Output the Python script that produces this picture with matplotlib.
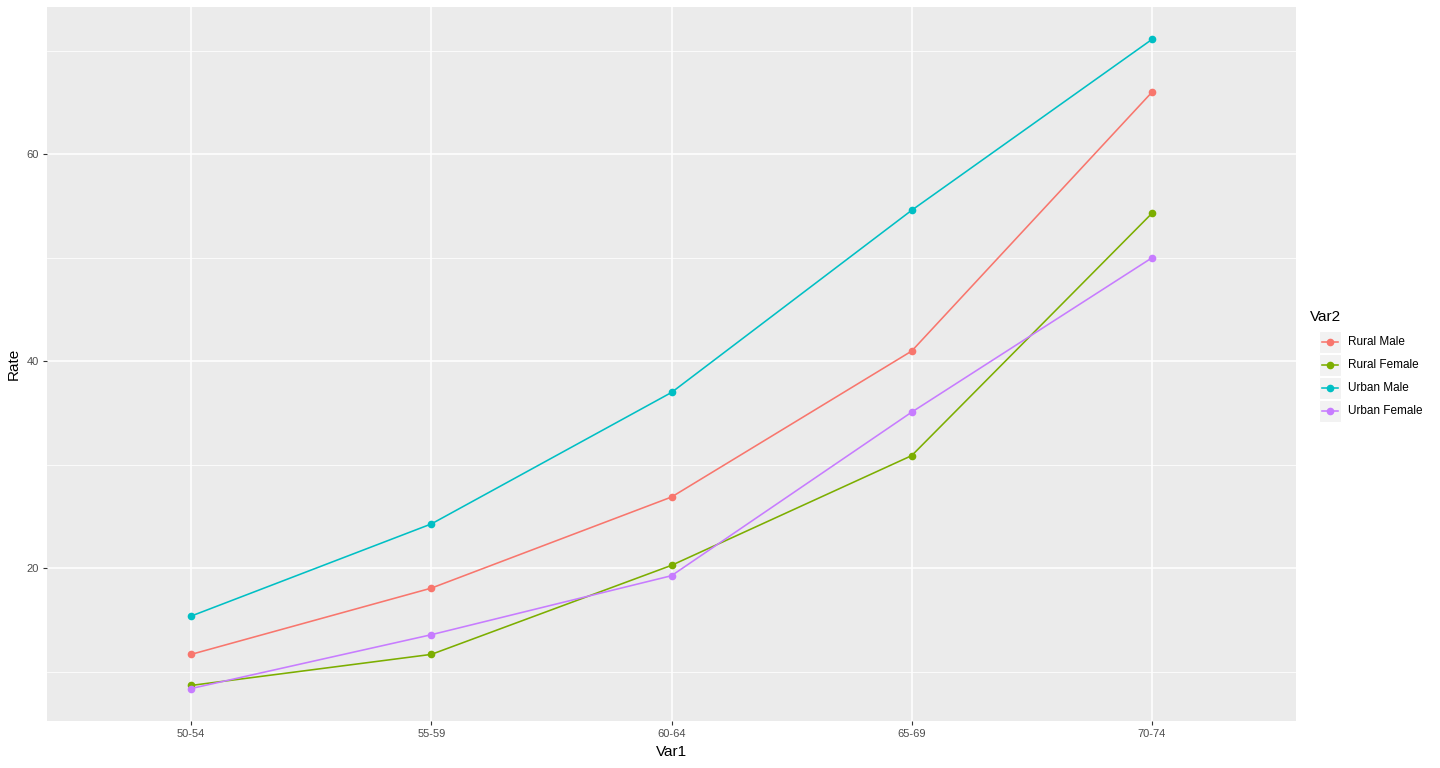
import matplotlib
matplotlib.use("Agg")
import matplotlib.pyplot as plt
from matplotlib.lines import Line2D
from matplotlib.patches import Rectangle

plt.rcParams["font.family"] = ["Liberation Sans", "DejaVu Sans"]

# VADeaths
age_groups = ["50-54", "55-59", "60-64", "65-69", "70-74"]
series_names = ["Rural Male", "Rural Female", "Urban Male", "Urban Female"]
rural_male = [11.7, 18.1, 26.9, 41.0, 66.0]
rural_female = [8.7, 11.7, 20.3, 30.9, 54.3]
urban_male = [15.4, 24.3, 37.0, 54.6, 71.1]
urban_female = [8.4, 13.6, 19.3, 35.1, 50.0]
series_values = [rural_male, rural_female, urban_male, urban_female]
colors = ["#F8766D", "#7CAE00", "#00BFC4", "#C77CFF"]

fig = plt.figure(figsize=(14.4, 7.68), dpi=100)
W, H = 1440, 768
ax = fig.add_axes([47 / W, (768 - 721) / H, 1249 / W, 714 / H])
ax.set_facecolor("#EBEBEB")

xs = list(range(len(age_groups)))
for name, vals, c in zip(series_names, series_values, colors):
    ax.plot(xs, vals, color=c, lw=1.15, marker="o", ms=4.5, mec=c, mfc=c, zorder=3)

# ggplot-style 5% expansion
allv = [v for s in series_values for v in s]
lo, hi = min(allv), max(allv)
pad = (hi - lo) * 0.05
ax.set_ylim(lo - pad, hi + pad)
ax.set_xlim(-0.6, len(age_groups) - 1 + 0.6)

ax.set_xticks(xs)
ax.set_xticklabels(age_groups)
ax.set_yticks([20, 40, 60])
ax.set_yticks([10, 30, 50, 70], minor=True)
ax.grid(True, which="major", color="white", lw=1.1, zorder=0)
ax.grid(True, which="minor", axis="y", color="white", lw=0.55, zorder=0)
ax.set_axisbelow(True)
for s in ax.spines.values():
    s.set_visible(False)
ax.tick_params(which="major", length=3, width=0.8, color="#333333",
               labelsize=8, labelcolor="#4D4D4D", pad=3)
ax.tick_params(which="minor", length=0)
ax.set_xlabel("Var1", fontsize=11, labelpad=4)
ax.set_ylabel("Rate", fontsize=11, labelpad=4)

# legend, ggplot style
fig.text(1310 / W, 1 - 317 / H, "Var2", fontsize=11, va="center", ha="left")
key_y = [342, 365, 388, 411]
for name, c, y in zip(series_names, colors, key_y):
    fig.patches.append(Rectangle((1319 / W, 1 - (y + 11) / H), 22 / W, 22 / H,
                                 transform=fig.transFigure, facecolor="#F2F2F2",
                                 edgecolor="white", lw=0.8))
    fig.add_artist(Line2D([1322 / W, 1338 / W], [1 - y / H, 1 - y / H],
                          color=c, lw=1.15, transform=fig.transFigure))
    fig.add_artist(Line2D([1330 / W], [1 - y / H], color=c, marker="o", ms=4.5,
                          transform=fig.transFigure))
    fig.text(1348 / W, 1 - y / H, name, fontsize=8.5, va="center", ha="left")

fig.savefig("out.png", dpi=100)
